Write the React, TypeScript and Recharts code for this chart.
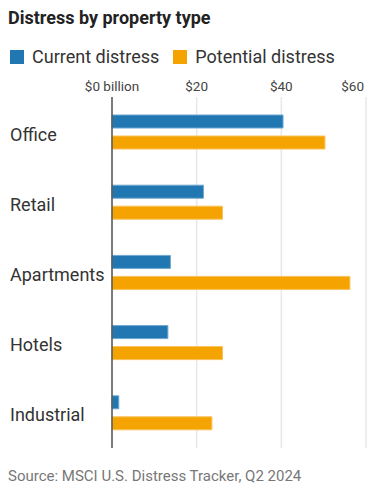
import React from "react";
import { BarChart, Bar, XAxis, YAxis, CartesianGrid, ReferenceLine } from "recharts";

const categories = ["Office", "Retail", "Apartments", "Hotels", "Industrial"];
const currentDistress = [40.4, 21.6, 13.8, 13.2, 1.6];
const potentialDistress = [50.3, 26.1, 56.2, 26.1, 23.6];
const xTicks = [0, 20, 40, 60];
const xTickLabels = ["$0 billion", "$20", "$40", "$60"];

const BLUE = "#2077b1";
const ORANGE = "#f5a300";
const FONT = "Roboto, 'Noto Sans', sans-serif";

const data = categories.map((name, i) => ({
  name,
  current: currentDistress[i],
  potential: potentialDistress[i],
}));

const XTick = (props: any) => {
  const { x, payload, index } = props;
  const last = index === xTicks.length - 1;
  return (
    <text
      x={last ? x - 2 : x}
      y={91}
      textAnchor={last ? "end" : "middle"}
      fontSize={13.5}
      fill="#444"
      fontFamily={FONT}
    >
      {xTickLabels[xTicks.indexOf(payload.value)]}
    </text>
  );
};

const YTick = (props: any) => {
  const { y, payload } = props;
  return (
    <text x={10} y={y} dy={8.5} textAnchor="start" fontSize={18} fill="#333" fontFamily={FONT}>
      {payload.value}
    </text>
  );
};

export default function App() {
  return (
    <div style={{ position: "absolute", left: 0, top: 0, width: 376, height: 490, background: "#fff", fontFamily: FONT }}>
      <div style={{ position: "absolute", left: 8, top: 7, fontSize: 18, lineHeight: "21px", fontWeight: 700, color: "#222" }}>
        Distress by property type
      </div>
      <div style={{ position: "absolute", left: 10, top: 46, height: 21, display: "flex", alignItems: "center", fontSize: 18, lineHeight: "21px", color: "#333" }}>
        <span style={{ display: "inline-block", width: 14, height: 14, background: BLUE, marginRight: 8 }} />
        <span style={{ marginRight: 14 }}>Current distress</span>
        <span style={{ display: "inline-block", width: 14, height: 14, background: ORANGE, marginRight: 8 }} />
        <span>Potential distress</span>
      </div>
      <div style={{ position: "absolute", left: 0, top: 0 }}>
        <BarChart
          width={376}
          height={460}
          data={data}
          layout="vertical"
          margin={{ top: 0, right: 10, left: 0, bottom: 12 }}
          barSize={13}
          barGap={8}
        >
          <CartesianGrid horizontal={false} vertical stroke="#e8e8e8" strokeWidth={1.5} />
          <XAxis
            type="number"
            orientation="top"
            domain={[0, 60]}
            ticks={xTicks}
            height={97}
            axisLine={false}
            tickLine={false}
            tick={<XTick />}
            interval={0}
          />
          <YAxis
            type="category"
            dataKey="name"
            width={112}
            axisLine={false}
            tickLine={false}
            tick={<YTick />}
            interval={0}
          />
          <Bar dataKey="current" fill={BLUE} stroke="#6fa6cf" strokeWidth={1} isAnimationActive={false} />
          <Bar dataKey="potential" fill={ORANGE} stroke="#f8c25a" strokeWidth={1} isAnimationActive={false} />
          <ReferenceLine x={0} stroke="#555" strokeWidth={1.5} />
        </BarChart>
      </div>
      <div style={{ position: "absolute", left: 8, top: 467, fontSize: 15, lineHeight: "18px", color: "#777" }}>
        Source: MSCI U.S. Distress Tracker, Q2 2024
      </div>
    </div>
  );
}
